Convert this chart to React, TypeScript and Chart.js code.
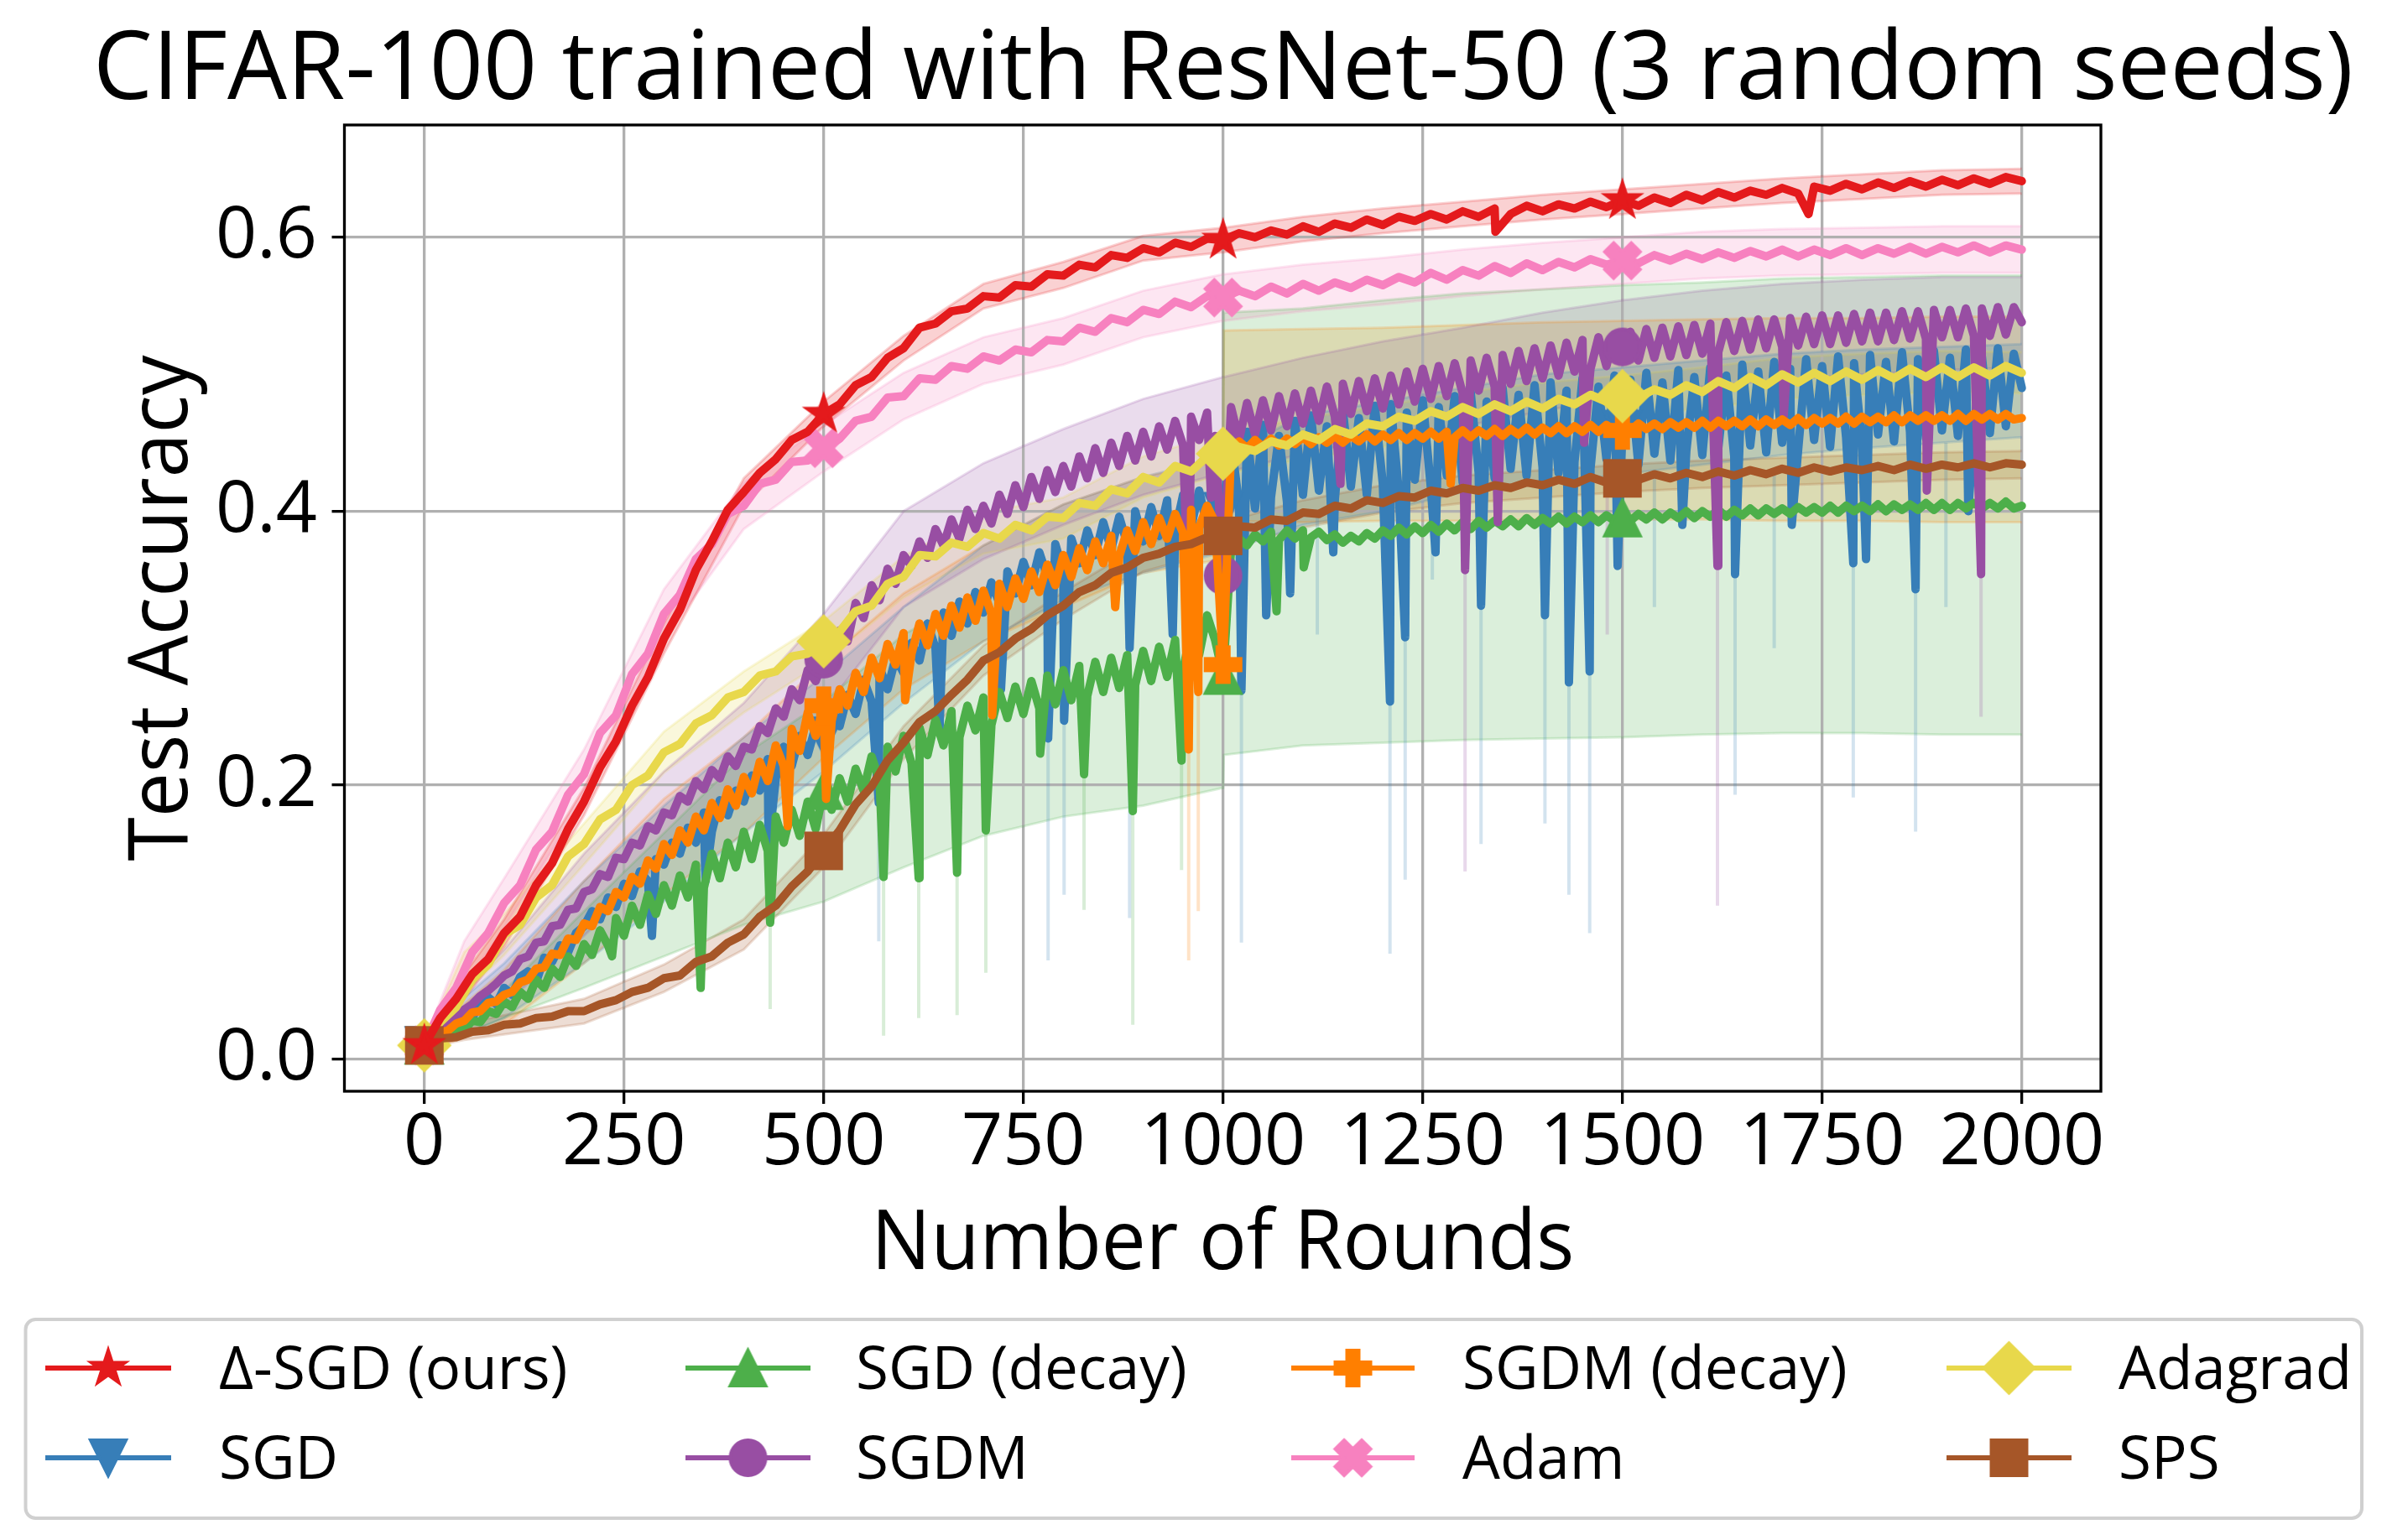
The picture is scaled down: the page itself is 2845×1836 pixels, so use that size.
import { useEffect, useRef } from 'react';
import { Chart, registerables } from 'chart.js';

Chart.register(...registerables);

// ---- text ----
const TITLE = 'CIFAR-100 trained with ResNet-50 (3 random seeds)';
const X_LABEL = 'Number of Rounds';
const Y_LABEL = 'Test Accuracy';

// ---- axes ----
const X_TICKS = [0, 250, 500, 750, 1000, 1250, 1500, 1750, 2000];
const Y_TICKS = [0, 0.2, 0.4, 0.6];
const MARKER_ROUNDS = [0, 500, 1000, 1500];

// sampling of the logged curves (rounds between consecutive values)
const COARSE_STEP = 20;
const FINE_STEP = 10;
// rounds at which the seed spread (min / max band) is given
const BAND_ROUNDS = [0, 50, 100, 200, 300, 400, 500, 600, 700, 800, 900, 1000, 1001, 1100, 1200, 1300, 1400, 1500, 1600, 1700, 1800, 1900, 2000];

// ---- mean test accuracy, every 20 rounds ----
const DELTA_SGD = [
  0.010, 0.030, 0.044, 0.062, 0.073, 0.092, 0.104, 0.127, 0.143, 0.168,
  0.188, 0.213, 0.232, 0.258, 0.279, 0.307, 0.328, 0.357, 0.378, 0.401,
  0.414, 0.428, 0.438, 0.452, 0.458, 0.471, 0.478, 0.492, 0.498, 0.512,
  0.519, 0.534, 0.537, 0.546, 0.548, 0.557, 0.556, 0.565, 0.564, 0.573,
  0.572, 0.580, 0.578, 0.587, 0.585, 0.592, 0.589, 0.596, 0.593, 0.599,
  0.598, 0.603, 0.600, 0.605, 0.602, 0.608, 0.604, 0.610, 0.607, 0.613,
  0.609, 0.615, 0.612, 0.617, 0.613, 0.619, 0.615, 0.621, 0.617, 0.623,
  0.619, 0.624, 0.621, 0.626, 0.622, 0.627, 0.623, 0.629, 0.625, 0.631,
  0.627, 0.633, 0.629, 0.634, 0.631, 0.636, 0.632, 0.637, 0.634, 0.639,
  0.635, 0.640, 0.636, 0.641, 0.637, 0.642, 0.638, 0.643, 0.639, 0.644,
  0.641,
];
const ADAM = [
  0.010, 0.036, 0.052, 0.078, 0.092, 0.114, 0.127, 0.153, 0.166, 0.193,
  0.208, 0.238, 0.251, 0.281, 0.296, 0.325, 0.339, 0.365, 0.376, 0.398,
  0.404, 0.420, 0.423, 0.436, 0.437, 0.446, 0.453, 0.466, 0.469, 0.483,
  0.484, 0.497, 0.496, 0.506, 0.504, 0.513, 0.510, 0.518, 0.516, 0.525,
  0.524, 0.534, 0.531, 0.541, 0.538, 0.547, 0.544, 0.553, 0.549, 0.557,
  0.556, 0.561, 0.557, 0.564, 0.559, 0.566, 0.561, 0.567, 0.563, 0.569,
  0.565, 0.571, 0.567, 0.574, 0.569, 0.576, 0.572, 0.579, 0.574, 0.581,
  0.576, 0.582, 0.578, 0.584, 0.580, 0.583, 0.581, 0.587, 0.583, 0.588,
  0.584, 0.589, 0.585, 0.590, 0.586, 0.591, 0.586, 0.591, 0.587, 0.592,
  0.587, 0.592, 0.588, 0.593, 0.588, 0.593, 0.589, 0.594, 0.589, 0.594,
  0.591,
];
const ADAGRAD = [
  0.010, 0.027, 0.038, 0.058, 0.069, 0.091, 0.098, 0.118, 0.127, 0.148,
  0.157, 0.175, 0.182, 0.200, 0.207, 0.224, 0.230, 0.245, 0.251, 0.264,
  0.268, 0.280, 0.283, 0.294, 0.296, 0.305, 0.312, 0.327, 0.331, 0.347,
  0.352, 0.368, 0.367, 0.377, 0.374, 0.384, 0.380, 0.390, 0.386, 0.396,
  0.395, 0.406, 0.404, 0.416, 0.413, 0.425, 0.421, 0.433, 0.429, 0.440,
  0.442, 0.447, 0.444, 0.451, 0.448, 0.456, 0.452, 0.460, 0.456, 0.464,
  0.462, 0.469, 0.466, 0.473, 0.469, 0.476, 0.471, 0.478, 0.473, 0.480,
  0.475, 0.482, 0.478, 0.485, 0.480, 0.484, 0.483, 0.489, 0.485, 0.492,
  0.487, 0.495, 0.490, 0.498, 0.492, 0.500, 0.494, 0.501, 0.495, 0.502,
  0.496, 0.503, 0.497, 0.504, 0.498, 0.505, 0.498, 0.505, 0.499, 0.506,
  0.501,
];
const SPS = [
  0.010, 0.015, 0.016, 0.020, 0.021, 0.025, 0.026, 0.030, 0.031, 0.035,
  0.035, 0.040, 0.043, 0.049, 0.052, 0.059, 0.061, 0.071, 0.075, 0.085,
  0.091, 0.104, 0.112, 0.126, 0.137, 0.152, 0.167, 0.186, 0.199, 0.218,
  0.231, 0.246, 0.254, 0.266, 0.277, 0.291, 0.297, 0.307, 0.314, 0.324,
  0.331, 0.341, 0.346, 0.355, 0.359, 0.366, 0.369, 0.374, 0.376, 0.381,
  0.382, 0.389, 0.388, 0.394, 0.393, 0.399, 0.398, 0.404, 0.402, 0.408,
  0.406, 0.411, 0.410, 0.415, 0.413, 0.417, 0.415, 0.419, 0.417, 0.421,
  0.419, 0.423, 0.420, 0.425, 0.421, 0.424, 0.423, 0.427, 0.424, 0.428,
  0.425, 0.429, 0.426, 0.430, 0.427, 0.431, 0.428, 0.432, 0.429, 0.432,
  0.430, 0.433, 0.430, 0.434, 0.431, 0.434, 0.432, 0.435, 0.432, 0.435,
  0.434,
];

// ---- mean test accuracy, every 10 rounds (noisier runs) ----
const SGD = [
  0.010, 0.018, 0.024, 0.022, 0.031, 0.036, 0.030, 0.041, 0.045, 0.040,
  0.052, 0.047, 0.060, 0.064, 0.056, 0.074, 0.071, 0.083, 0.078, 0.092,
  0.097, 0.108, 0.102, 0.118, 0.111, 0.128, 0.119, 0.137, 0.130, 0.146,
  0.142, 0.158, 0.150, 0.169, 0.158, 0.180, 0.166, 0.189, 0.178, 0.196,
  0.188, 0.207, 0.196, 0.219, 0.205, 0.228, 0.214, 0.236, 0.222, 0.243,
  0.236, 0.255, 0.243, 0.266, 0.252, 0.277, 0.261, 0.286, 0.270, 0.293,
  0.282, 0.304, 0.291, 0.318, 0.300, 0.326, 0.309, 0.334, 0.318, 0.341,
  0.326, 0.348, 0.333, 0.356, 0.340, 0.363, 0.346, 0.370, 0.352, 0.376,
  0.356, 0.380, 0.362, 0.386, 0.368, 0.392, 0.372, 0.396, 0.376, 0.400,
  0.378, 0.403, 0.382, 0.408, 0.385, 0.412, 0.388, 0.415, 0.390, 0.418,
  0.400, 0.452, 0.405, 0.458, 0.402, 0.463, 0.410, 0.455, 0.407, 0.466,
  0.412, 0.470, 0.415, 0.462, 0.409, 0.474, 0.418, 0.468, 0.412, 0.477,
  0.420, 0.478, 0.414, 0.472, 0.423, 0.481, 0.418, 0.476, 0.426, 0.484,
  0.421, 0.487, 0.428, 0.480, 0.424, 0.490, 0.431, 0.485, 0.426, 0.492,
  0.432, 0.494, 0.428, 0.488, 0.436, 0.497, 0.431, 0.491, 0.438, 0.499,
  0.460, 0.496, 0.434, 0.501, 0.442, 0.494, 0.437, 0.503, 0.444, 0.498,
  0.441, 0.505, 0.446, 0.499, 0.440, 0.507, 0.448, 0.502, 0.443, 0.509,
  0.450, 0.504, 0.445, 0.511, 0.452, 0.506, 0.447, 0.513, 0.454, 0.508,
  0.449, 0.514, 0.456, 0.509, 0.451, 0.516, 0.458, 0.511, 0.453, 0.517,
  0.459, 0.512, 0.455, 0.518, 0.461, 0.513, 0.457, 0.519, 0.462, 0.515,
  0.490,
];
const SGD_DECAY = [
  0.010, 0.013, 0.017, 0.016, 0.022, 0.021, 0.028, 0.027, 0.035, 0.033,
  0.042, 0.038, 0.049, 0.044, 0.058, 0.052, 0.066, 0.060, 0.075, 0.068,
  0.084, 0.076, 0.094, 0.083, 0.103, 0.090, 0.112, 0.098, 0.120, 0.106,
  0.127, 0.112, 0.134, 0.118, 0.142, 0.125, 0.150, 0.132, 0.158, 0.140,
  0.166, 0.146, 0.171, 0.152, 0.177, 0.158, 0.182, 0.163, 0.188, 0.168,
  0.196, 0.182, 0.205, 0.188, 0.212, 0.196, 0.221, 0.203, 0.228, 0.210,
  0.236, 0.216, 0.242, 0.222, 0.248, 0.229, 0.254, 0.235, 0.258, 0.240,
  0.264, 0.244, 0.268, 0.249, 0.272, 0.252, 0.276, 0.256, 0.280, 0.259,
  0.284, 0.262, 0.287, 0.265, 0.290, 0.268, 0.293, 0.271, 0.295, 0.273,
  0.298, 0.276, 0.301, 0.279, 0.306, 0.284, 0.314, 0.295, 0.324, 0.306,
  0.280, 0.372, 0.380, 0.375, 0.383, 0.378, 0.385, 0.379, 0.386, 0.380,
  0.386, 0.381, 0.385, 0.379, 0.383, 0.377, 0.382, 0.378, 0.384, 0.380,
  0.386, 0.382, 0.388, 0.383, 0.389, 0.384, 0.390, 0.385, 0.391, 0.386,
  0.392, 0.387, 0.393, 0.388, 0.393, 0.389, 0.394, 0.389, 0.395, 0.390,
  0.395, 0.391, 0.396, 0.391, 0.396, 0.392, 0.397, 0.392, 0.397, 0.393,
  0.395, 0.393, 0.398, 0.394, 0.399, 0.394, 0.399, 0.395, 0.400, 0.395,
  0.400, 0.396, 0.401, 0.396, 0.401, 0.397, 0.402, 0.397, 0.402, 0.398,
  0.402, 0.398, 0.403, 0.399, 0.403, 0.399, 0.404, 0.399, 0.404, 0.400,
  0.404, 0.400, 0.405, 0.400, 0.405, 0.401, 0.405, 0.401, 0.406, 0.401,
  0.406, 0.401, 0.406, 0.402, 0.406, 0.402, 0.406, 0.402, 0.407, 0.402,
  0.404,
];
const SGDM = [
  0.010, 0.016, 0.022, 0.027, 0.030, 0.036, 0.040, 0.046, 0.050, 0.055,
  0.061, 0.064, 0.073, 0.075, 0.085, 0.086, 0.097, 0.098, 0.109, 0.110,
  0.122, 0.124, 0.135, 0.133, 0.147, 0.146, 0.158, 0.156, 0.170, 0.167,
  0.180, 0.178, 0.192, 0.188, 0.203, 0.197, 0.211, 0.205, 0.221, 0.214,
  0.228, 0.226, 0.243, 0.238, 0.256, 0.250, 0.270, 0.262, 0.284, 0.276,
  0.292, 0.291, 0.313, 0.305, 0.333, 0.322, 0.346, 0.335, 0.358, 0.347,
  0.368, 0.360, 0.378, 0.366, 0.387, 0.375, 0.394, 0.380, 0.401, 0.387,
  0.404, 0.391, 0.412, 0.398, 0.419, 0.403, 0.425, 0.409, 0.430, 0.414,
  0.433, 0.418, 0.440, 0.424, 0.446, 0.428, 0.450, 0.433, 0.455, 0.437,
  0.458, 0.440, 0.462, 0.445, 0.466, 0.448, 0.469, 0.452, 0.472, 0.455,
  0.353, 0.476, 0.452, 0.479, 0.456, 0.481, 0.459, 0.484, 0.462, 0.486,
  0.464, 0.488, 0.466, 0.491, 0.469, 0.493, 0.471, 0.495, 0.473, 0.497,
  0.475, 0.499, 0.478, 0.502, 0.480, 0.504, 0.482, 0.506, 0.484, 0.508,
  0.486, 0.510, 0.488, 0.512, 0.491, 0.514, 0.493, 0.517, 0.495, 0.519,
  0.497, 0.521, 0.499, 0.523, 0.502, 0.525, 0.504, 0.527, 0.506, 0.529,
  0.520, 0.531, 0.510, 0.533, 0.512, 0.534, 0.513, 0.535, 0.514, 0.536,
  0.515, 0.537, 0.516, 0.538, 0.517, 0.539, 0.518, 0.540, 0.519, 0.540,
  0.520, 0.541, 0.521, 0.542, 0.522, 0.543, 0.522, 0.543, 0.523, 0.544,
  0.524, 0.545, 0.524, 0.545, 0.525, 0.546, 0.526, 0.546, 0.526, 0.547,
  0.527, 0.547, 0.527, 0.548, 0.528, 0.548, 0.528, 0.549, 0.529, 0.549,
  0.538,
];
const SGDM_DECAY = [
  0.010, 0.014, 0.019, 0.021, 0.026, 0.028, 0.034, 0.035, 0.041, 0.042,
  0.047, 0.049, 0.056, 0.058, 0.066, 0.067, 0.077, 0.076, 0.088, 0.087,
  0.099, 0.097, 0.111, 0.108, 0.122, 0.118, 0.133, 0.128, 0.145, 0.139,
  0.157, 0.149, 0.167, 0.158, 0.177, 0.167, 0.187, 0.176, 0.197, 0.185,
  0.206, 0.194, 0.217, 0.203, 0.229, 0.214, 0.241, 0.225, 0.253, 0.236,
  0.258, 0.247, 0.270, 0.258, 0.282, 0.268, 0.293, 0.278, 0.303, 0.288,
  0.311, 0.296, 0.318, 0.302, 0.325, 0.309, 0.331, 0.315, 0.337, 0.320,
  0.342, 0.325, 0.347, 0.330, 0.351, 0.336, 0.356, 0.341, 0.361, 0.346,
  0.368, 0.352, 0.373, 0.357, 0.378, 0.362, 0.382, 0.367, 0.386, 0.371,
  0.392, 0.376, 0.395, 0.380, 0.398, 0.384, 0.401, 0.388, 0.404, 0.392,
  0.288, 0.445, 0.451, 0.446, 0.452, 0.447, 0.453, 0.448, 0.453, 0.449,
  0.454, 0.449, 0.454, 0.450, 0.455, 0.450, 0.455, 0.451, 0.456, 0.451,
  0.456, 0.452, 0.457, 0.452, 0.457, 0.453, 0.458, 0.453, 0.458, 0.454,
  0.459, 0.454, 0.459, 0.455, 0.460, 0.455, 0.460, 0.456, 0.461, 0.456,
  0.461, 0.457, 0.462, 0.457, 0.462, 0.458, 0.463, 0.458, 0.463, 0.459,
  0.459, 0.459, 0.464, 0.460, 0.464, 0.460, 0.465, 0.461, 0.465, 0.461,
  0.466, 0.461, 0.466, 0.462, 0.466, 0.462, 0.467, 0.462, 0.467, 0.463,
  0.467, 0.463, 0.468, 0.463, 0.468, 0.464, 0.468, 0.464, 0.469, 0.464,
  0.469, 0.465, 0.469, 0.465, 0.470, 0.465, 0.470, 0.466, 0.470, 0.466,
  0.470, 0.466, 0.471, 0.466, 0.471, 0.467, 0.471, 0.467, 0.471, 0.467,
  0.468,
];

// ---- isolated drops of the mean curve: [round, accuracy] ----
const DELTA_SGD_DIPS: [number, number][] = [[1341, 0.604], [1733, 0.617]];
const SGD_DIPS: [number, number][] = [
  [285, 0.09], [352, 0.13], [431, 0.155], [569, 0.187], [645, 0.24], [722, 0.27],
  [781, 0.234], [801, 0.247], [883, 0.30], [937, 0.31], [1023, 0.269], [1054, 0.324],
  [1084, 0.34], [1138, 0.37], [1209, 0.261], [1228, 0.308], [1266, 0.37], [1323, 0.331],
  [1403, 0.324], [1433, 0.275], [1459, 0.283], [1494, 0.36], [1575, 0.39], [1641, 0.354],
  [1712, 0.39], [1789, 0.362], [1805, 0.365], [1867, 0.343], [1933, 0.40],
];
const SGD_DECAY_DIPS: [number, number][] = [
  [235, 0.075], [346, 0.052], [433, 0.0996], [575, 0.133], [619, 0.132], [667, 0.136],
  [703, 0.167], [771, 0.223], [826, 0.208], [887, 0.181], [948, 0.218], [1067, 0.327], [1101, 0.359],
];
const SGDM_DIPS: [number, number][] = [
  [957, 0.324], [985, 0.41], [1147, 0.42], [1303, 0.357], [1344, 0.392], [1452, 0.45],
  [1619, 0.36], [1702, 0.47], [1881, 0.415], [1949, 0.354],
];
const SGDM_DECAY_DIPS: [number, number][] = [
  [455, 0.17], [503, 0.19], [602, 0.262], [711, 0.251], [865, 0.33], [957, 0.226], [969, 0.268], [1285, 0.42],
];

// ---- single-seed collapses inside the spread: [round, from, to] ----
const SGD_SEED_DROPS: [number, number, number][] = [
  [569, 0.187, 0.086], [781, 0.234, 0.072], [801, 0.247, 0.12], [883, 0.30, 0.103],
  [1023, 0.269, 0.085], [1118, 0.40, 0.31], [1209, 0.261, 0.077], [1228, 0.308, 0.131],
  [1262, 0.41, 0.35], [1323, 0.331, 0.157], [1403, 0.324, 0.172], [1433, 0.275, 0.12],
  [1459, 0.283, 0.092], [1540, 0.43, 0.33], [1641, 0.354, 0.193], [1690, 0.43, 0.30],
  [1789, 0.362, 0.191], [1867, 0.343, 0.166], [1905, 0.45, 0.33],
];
const SGD_DECAY_SEED_DROPS: [number, number, number][] = [
  [433, 0.0996, 0.0365], [575, 0.133, 0.017], [619, 0.132, 0.030], [667, 0.136, 0.032],
  [703, 0.167, 0.063], [826, 0.208, 0.109], [887, 0.181, 0.025], [948, 0.218, 0.138],
];
const SGDM_SEED_DROPS: [number, number, number][] = [
  [1303, 0.357, 0.137], [1481, 0.45, 0.31], [1619, 0.36, 0.112], [1949, 0.354, 0.25],
];
const SGDM_DECAY_SEED_DROPS: [number, number, number][] = [
  [957, 0.226, 0.072], [969, 0.268, 0.108],
];

// ---- seed spread (upper / lower edge) at BAND_ROUNDS ----
const DELTA_SGD_HI = [0.012, 0.062, 0.102, 0.198, 0.318, 0.424, 0.480, 0.528, 0.566, 0.582, 0.601, 0.607, 0.607, 0.615, 0.621, 0.626, 0.631, 0.635, 0.639, 0.643, 0.646, 0.649, 0.650];
const DELTA_SGD_LO = [0.008, 0.044, 0.082, 0.178, 0.296, 0.404, 0.462, 0.510, 0.548, 0.563, 0.583, 0.589, 0.589, 0.597, 0.603, 0.608, 0.613, 0.617, 0.621, 0.625, 0.628, 0.631, 0.632];
const ADAM_HI = [0.013, 0.086, 0.132, 0.226, 0.343, 0.421, 0.463, 0.501, 0.527, 0.541, 0.561, 0.573, 0.573, 0.580, 0.585, 0.591, 0.596, 0.600, 0.604, 0.606, 0.607, 0.608, 0.608];
const ADAM_LO = [0.007, 0.054, 0.096, 0.190, 0.307, 0.387, 0.429, 0.467, 0.493, 0.507, 0.527, 0.539, 0.539, 0.546, 0.551, 0.557, 0.562, 0.566, 0.570, 0.572, 0.573, 0.574, 0.574];
const ADAGRAD_HI = [0.013, 0.078, 0.106, 0.172, 0.239, 0.283, 0.320, 0.367, 0.399, 0.410, 0.440, 0.457, 0.457, 0.468, 0.477, 0.487, 0.494, 0.499, 0.505, 0.512, 0.515, 0.517, 0.516];
const ADAGRAD_LO = [0.007, 0.048, 0.076, 0.142, 0.209, 0.253, 0.290, 0.337, 0.369, 0.380, 0.410, 0.427, 0.427, 0.438, 0.447, 0.457, 0.464, 0.469, 0.475, 0.482, 0.485, 0.487, 0.486];
const SPS_HI = [0.012, 0.026, 0.032, 0.044, 0.069, 0.102, 0.164, 0.243, 0.302, 0.341, 0.376, 0.392, 0.392, 0.408, 0.419, 0.426, 0.430, 0.434, 0.437, 0.439, 0.441, 0.443, 0.444];
const SPS_LO = [0.008, 0.014, 0.018, 0.026, 0.049, 0.080, 0.140, 0.219, 0.280, 0.321, 0.356, 0.372, 0.372, 0.388, 0.399, 0.406, 0.410, 0.414, 0.417, 0.419, 0.421, 0.423, 0.424];
const SGDM_HI = [0.014, 0.050, 0.080, 0.150, 0.210, 0.260, 0.325, 0.400, 0.435, 0.460, 0.482, 0.498, 0.498, 0.512, 0.524, 0.534, 0.545, 0.554, 0.561, 0.566, 0.569, 0.571, 0.571];
const SGDM_LO = [0.006, 0.022, 0.040, 0.090, 0.146, 0.190, 0.255, 0.330, 0.365, 0.390, 0.412, 0.428, 0.428, 0.442, 0.454, 0.462, 0.473, 0.484, 0.491, 0.496, 0.500, 0.503, 0.505];
const SGD_HI = [0.014, 0.045, 0.070, 0.130, 0.185, 0.235, 0.280, 0.330, 0.375, 0.405, 0.425, 0.440, 0.440, 0.470, 0.480, 0.490, 0.500, 0.505, 0.510, 0.515, 0.518, 0.520, 0.522];
const SGD_LO = [0.006, 0.018, 0.030, 0.070, 0.115, 0.165, 0.210, 0.260, 0.305, 0.335, 0.355, 0.370, 0.370, 0.390, 0.400, 0.414, 0.420, 0.427, 0.434, 0.441, 0.446, 0.450, 0.454];
const SGDM_DECAY_HI = [0.014, 0.040, 0.065, 0.130, 0.190, 0.235, 0.290, 0.340, 0.375, 0.405, 0.425, 0.437, 0.532, 0.533, 0.534, 0.536, 0.538, 0.539, 0.540, 0.541, 0.541, 0.542, 0.542];
const SGDM_DECAY_LO = [0.006, 0.016, 0.025, 0.070, 0.120, 0.165, 0.220, 0.270, 0.305, 0.330, 0.355, 0.365, 0.393, 0.392, 0.393, 0.393, 0.394, 0.394, 0.394, 0.393, 0.393, 0.392, 0.392];
const SGD_DECAY_HI = [0.012, 0.028, 0.050, 0.108, 0.165, 0.222, 0.261, 0.310, 0.341, 0.363, 0.379, 0.400, 0.545, 0.548, 0.554, 0.559, 0.562, 0.565, 0.567, 0.570, 0.571, 0.572, 0.572];
const SGD_DECAY_LO = [0.008, 0.018, 0.030, 0.052, 0.075, 0.098, 0.115, 0.140, 0.163, 0.177, 0.185, 0.198, 0.222, 0.229, 0.231, 0.233, 0.234, 0.235, 0.237, 0.238, 0.238, 0.237, 0.237];

// ---- series table (legend order; z: 1 is drawn on top) ----
const SERIES = [
  { label: 'Δ-SGD (ours)', color: '#e41a1c', marker: 'star', values: DELTA_SGD, step: COARSE_STEP, dips: DELTA_SGD_DIPS, drops: [] as [number, number, number][], hi: DELTA_SGD_HI, lo: DELTA_SGD_LO, z: 1 },
  { label: 'SGD', color: '#377eb8', marker: 'triangleDown', values: SGD, step: FINE_STEP, dips: SGD_DIPS, drops: SGD_SEED_DROPS, hi: SGD_HI, lo: SGD_LO, z: 8 },
  { label: 'SGD (decay)', color: '#4daf4a', marker: 'triangleUp', values: SGD_DECAY, step: FINE_STEP, dips: SGD_DECAY_DIPS, drops: SGD_DECAY_SEED_DROPS, hi: SGD_DECAY_HI, lo: SGD_DECAY_LO, z: 7 },
  { label: 'SGDM', color: '#984ea3', marker: 'circle', values: SGDM, step: FINE_STEP, dips: SGDM_DIPS, drops: SGDM_SEED_DROPS, hi: SGDM_HI, lo: SGDM_LO, z: 6 },
  { label: 'SGDM (decay)', color: '#ff7f00', marker: 'plus', values: SGDM_DECAY, step: FINE_STEP, dips: SGDM_DECAY_DIPS, drops: SGDM_DECAY_SEED_DROPS, hi: SGDM_DECAY_HI, lo: SGDM_DECAY_LO, z: 5 },
  { label: 'Adam', color: '#f781bf', marker: 'x', values: ADAM, step: COARSE_STEP, dips: [] as [number, number][], drops: [] as [number, number, number][], hi: ADAM_HI, lo: ADAM_LO, z: 4 },
  { label: 'Adagrad', color: '#e8d84b', marker: 'diamond', values: ADAGRAD, step: COARSE_STEP, dips: [] as [number, number][], drops: [] as [number, number, number][], hi: ADAGRAD_HI, lo: ADAGRAD_LO, z: 3 },
  { label: 'SPS', color: '#a65628', marker: 'square', values: SPS, step: COARSE_STEP, dips: [] as [number, number][], drops: [] as [number, number, number][], hi: SPS_HI, lo: SPS_LO, z: 2 },
];

// ---- layout (canvas pixels) ----
const W = 2845;
const H = 1836;
const FONT = "'Open Sans', 'DejaVu Sans', sans-serif";
const MARKER_SIZE = 42;
const CURVE_WIDTH = 10;
const HANDLE_WIDTH = 6;
const TITLE_BOX = { cx: 1458, baseline: 118, size: 114, width: 2694 };
const X_LABEL_BOX = { baseline: 1513, size: 98, width: 838 };
const Y_LABEL_BOX = { x: 223, size: 98, width: 603 };
const LEGEND_BOX = { x: 30.5, y: 1573, w: 2784.5, h: 237, r: 12 };
const LEGEND_COLS = [
  { x1: 54, x2: 204, tx: 261 },
  { x1: 817, x2: 966, tx: 1020 },
  { x1: 1539, x2: 1686, tx: 1743 },
  { x1: 2320, x2: 2469, tx: 2525 },
];
const LEGEND_ROWS = [{ ly: 1631, ty: 1656 }, { ly: 1738, ty: 1763 }];

function rgba(hex: string, a: number) {
  const n = parseInt(hex.slice(1), 16);
  return `rgba(${(n >> 16) & 255},${(n >> 8) & 255},${n & 255},${a})`;
}

function makeMarker(kind: string, color: string): HTMLCanvasElement {
  const S = 72;
  const c = document.createElement('canvas');
  c.width = S;
  c.height = S;
  const g = c.getContext('2d')!;
  g.translate(S / 2, S / 2);
  g.fillStyle = color;
  g.strokeStyle = color;
  g.lineWidth = 4;
  g.lineJoin = 'miter';
  const m = MARKER_SIZE;
  const h = m / 2;
  const poly = (pts: number[][], k: number) => {
    pts.forEach(([px, py], i) => (i === 0 ? g.moveTo(px * k, py * k) : g.lineTo(px * k, py * k)));
  };
  g.beginPath();
  if (kind === 'star') {
    const r = h * 0.381966;
    for (let i = 0; i < 10; i++) {
      const a = -Math.PI / 2 + (i * Math.PI) / 5;
      const rad = i % 2 === 0 ? h : r;
      g.lineTo(rad * Math.cos(a), rad * Math.sin(a));
    }
  } else if (kind === 'triangleDown') {
    poly([[0, 1], [-1, -1], [1, -1]], h);
  } else if (kind === 'triangleUp') {
    poly([[0, -1], [-1, 1], [1, 1]], h);
  } else if (kind === 'circle') {
    g.arc(0, 0, h, 0, Math.PI * 2);
  } else if (kind === 'plus') {
    poly([[-1, -3], [1, -3], [1, -1], [3, -1], [3, 1], [1, 1], [1, 3], [-1, 3], [-1, 1], [-3, 1], [-3, -1], [-1, -1]], m / 6);
  } else if (kind === 'x') {
    poly([[-1, -2], [0, -1], [1, -2], [2, -1], [1, 0], [2, 1], [1, 2], [0, 1], [-1, 2], [-2, 1], [-1, 0], [-2, -1]], m / 4);
  } else if (kind === 'diamond') {
    const d = m * 0.7071;
    poly([[0, -1], [1, 0], [0, 1], [-1, 0]], d);
  } else {
    g.rect(-h, -h, m, m);
  }
  g.closePath();
  g.fill();
  g.stroke();
  return c;
}

type Pt = { x: number; y: number | null };

function curvePoints(values: number[], step: number, dips: [number, number][]): Pt[] {
  const pts: Pt[] = values.map((y, i) => ({ x: i * step, y }));
  dips.forEach(([x, y]) => pts.push({ x, y }));
  return pts.sort((a, b) => a.x - b.x);
}

function bandPoints(values: number[]): Pt[] {
  return values.map((y, i) => ({ x: BAND_ROUNDS[i], y }));
}

function dropPoints(drops: [number, number, number][]): Pt[] {
  return drops.flatMap(([x, from, to]) => [{ x, y: from }, { x, y: to }, { x, y: null }]);
}

// draws text with the given size, narrowed horizontally if it would exceed maxWidth
function fitText(ctx: CanvasRenderingContext2D, text: string, size: number, maxWidth: number) {
  ctx.font = `${size}px ${FONT}`;
  const w = ctx.measureText(text).width;
  const sx = Math.min(1, maxWidth / w);
  ctx.scale(sx, 1);
  ctx.fillText(text, 0, 0);
}

function buildChart(canvas: HTMLCanvasElement) {
  const markers = SERIES.map((s) => makeMarker(s.marker, s.color));
  const datasets: any[] = [];

  SERIES.forEach((s, i) => {
    datasets.push({
      label: `${s.label} spread`,
      data: bandPoints(s.hi),
      borderColor: rgba(s.color, 0.2),
      backgroundColor: rgba(s.color, 0.2),
      borderWidth: 3,
      pointRadius: 0,
      fill: '+1',
      order: 30,
    });
    datasets.push({
      label: `${s.label} spread low`,
      data: bandPoints(s.lo),
      borderColor: rgba(s.color, 0.2),
      borderWidth: 3,
      pointRadius: 0,
      fill: false,
      order: 30,
    });
    if (s.drops.length) {
      datasets.push({
        label: `${s.label} seed drops`,
        data: dropPoints(s.drops),
        borderColor: rgba(s.color, 0.22),
        borderWidth: 4,
        pointRadius: 0,
        fill: false,
        spanGaps: false,
        order: 20,
      });
    }
    datasets.push({
      label: s.label,
      data: curvePoints(s.values, s.step, s.dips),
      borderColor: s.color,
      backgroundColor: s.color,
      borderWidth: CURVE_WIDTH,
      borderJoinStyle: 'round',
      borderCapStyle: 'round',
      fill: false,
      pointStyle: markers[i],
      pointRadius: (c: any) => (c.raw && MARKER_ROUNDS.includes(c.raw.x) ? 20 : 0),
      pointHoverRadius: 0,
      order: s.z,
    });
  });

  const decor = {
    id: 'decor',
    afterDraw(chart: any) {
      const ctx: CanvasRenderingContext2D = chart.ctx;
      const { left, right, top, bottom } = chart.chartArea;
      ctx.save();
      // axes frame
      ctx.strokeStyle = '#000';
      ctx.lineWidth = 3.3;
      ctx.strokeRect(left, top, right - left, bottom - top);

      // title and axis labels
      ctx.fillStyle = '#000';
      ctx.textBaseline = 'alphabetic';
      ctx.textAlign = 'center';
      ctx.save();
      ctx.translate(TITLE_BOX.cx, TITLE_BOX.baseline);
      fitText(ctx, TITLE, TITLE_BOX.size, TITLE_BOX.width);
      ctx.restore();
      ctx.save();
      ctx.translate((left + right) / 2, X_LABEL_BOX.baseline);
      fitText(ctx, X_LABEL, X_LABEL_BOX.size, X_LABEL_BOX.width);
      ctx.restore();
      ctx.save();
      ctx.translate(Y_LABEL_BOX.x, (top + bottom) / 2);
      ctx.rotate(-Math.PI / 2);
      fitText(ctx, Y_LABEL, Y_LABEL_BOX.size, Y_LABEL_BOX.width);
      ctx.restore();

      // legend
      ctx.beginPath();
      ctx.roundRect(LEGEND_BOX.x, LEGEND_BOX.y, LEGEND_BOX.w, LEGEND_BOX.h, LEGEND_BOX.r);
      ctx.fillStyle = 'rgba(255,255,255,0.8)';
      ctx.fill();
      ctx.strokeStyle = '#d0d0d0';
      ctx.lineWidth = 4;
      ctx.stroke();
      ctx.font = `71px ${FONT}`;
      ctx.textAlign = 'left';
      SERIES.forEach((s, i) => {
        const col = LEGEND_COLS[Math.floor(i / 2)];
        const row = LEGEND_ROWS[i % 2];
        ctx.strokeStyle = s.color;
        ctx.lineWidth = HANDLE_WIDTH;
        ctx.beginPath();
        ctx.moveTo(col.x1, row.ly);
        ctx.lineTo(col.x2, row.ly);
        ctx.stroke();
        const mk = markers[i];
        ctx.drawImage(mk, (col.x1 + col.x2) / 2 - mk.width / 2, row.ly - mk.height / 2);
        ctx.fillStyle = '#000';
        ctx.fillText(s.label, col.tx, row.ty);
      });
      ctx.restore();
    },
  };

  const tickFont = { family: FONT, size: 86, lineHeight: 1 };
  const grid = { color: '#b0b0b0', lineWidth: 3.3, tickColor: '#000', tickLength: 15, tickWidth: 3.3 };

  return new Chart(canvas, {
    type: 'line',
    data: { datasets },
    plugins: [decor],
    options: {
      animation: false,
      responsive: false,
      devicePixelRatio: 1,
      events: [],
      layout: { padding: { left: 160.5, right: 341, top: 149, bottom: 285 } },
      elements: { line: { tension: 0 } },
      plugins: {
        legend: { display: false },
        tooltip: { enabled: false },
        filler: { drawTime: 'beforeDraw' },
      } as any,
      scales: {
        x: {
          type: 'linear',
          min: -100,
          max: 2099,
          afterBuildTicks: (s: any) => {
            s.ticks = X_TICKS.map((value) => ({ value }));
          },
          afterFit: (s: any) => {
            s.height = 250;
          },
          grid,
          border: { display: false },
          ticks: {
            font: tickFont,
            color: '#000',
            padding: 4,
            maxRotation: 0,
            autoSkip: false,
            callback: (v: any) => String(v),
          },
        },
        y: {
          type: 'linear',
          min: -0.0235,
          max: 0.682,
          afterBuildTicks: (s: any) => {
            s.ticks = Y_TICKS.map((value) => ({ value }));
          },
          afterFit: (s: any) => {
            s.width = 250;
          },
          grid,
          border: { display: false },
          ticks: {
            font: tickFont,
            color: '#000',
            padding: 17.5,
            autoSkip: false,
            callback: (v: any) => Number(v).toFixed(1),
          },
        },
      },
    } as any,
  });
}

export default function App() {
  const ref = useRef<HTMLCanvasElement>(null);
  useEffect(() => {
    document.body.style.margin = '0';
    document.body.style.background = '#fff';
    const chart = buildChart(ref.current!);
    return () => chart.destroy();
  }, []);
  return <canvas ref={ref} width={W} height={H} style={{ display: 'block', width: W, height: H }} />;
}
